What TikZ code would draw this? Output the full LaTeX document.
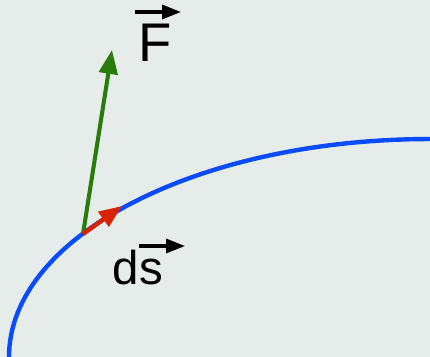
\documentclass[tikz,border=0pt]{standalone}
\usepackage{fontspec}
\setmainfont{Liberation Sans}
\usetikzlibrary{arrows.meta}

\definecolor{bgcol}{RGB}{229,236,233}
\definecolor{pathblue}{RGB}{10,75,255}
\definecolor{forcegreen}{RGB}{40,125,10}
\definecolor{stepred}{RGB}{215,35,0}

\begin{document}
\begin{tikzpicture}[x=0.02cm, y=-0.02cm, every node/.style={inner sep=0pt},
  vecbar/.style={line width=1.8pt, -{Triangle[length=10.8pt,width=8pt]}}]
  % ---------- BACKGROUND ----------
  \useasboundingbox (0,0) rectangle (430,357);
  \fill[bgcol] (0,0) rectangle (430,357);
  % ---------- PATH ----------
  \draw[pathblue, line width=2.5pt] (9,360) -- (9,357)
    arc[start angle=180, end angle=90, x radius=8.42cm, y radius=4.36cm] -- (432,139);
  % ---------- VECTORS ----------
  \coordinate (P) at (83,234);
  \coordinate (Ftip) at (112,50);
  \coordinate (dstip) at (122,206);
  \draw[forcegreen, line width=2.3pt, -{Triangle[length=13.6pt,width=10.5pt]}] (P) -- (Ftip);
  \draw[stepred, line width=2.5pt, -{Triangle[length=13pt,width=10pt]}] (P) -- (dstip);
  % ---------- LABELS ----------
  \node[anchor=base, font=\fontsize{31}{31}\selectfont] (Flab) at (155,62) {F};
  \node[anchor=base, font=\fontsize{27}{27}\selectfont] (dslab) at (138,285) {ds};
  \coordinate (Fa) at (135,12);
  \coordinate (Fb) at (181,12);
  \coordinate (dsa) at (139,246);
  \coordinate (dsb) at (185,246);
  \draw[vecbar] (Fa) -- (Fb);
  \draw[vecbar] (dsa) -- (dsb);
\end{tikzpicture}
\end{document}
